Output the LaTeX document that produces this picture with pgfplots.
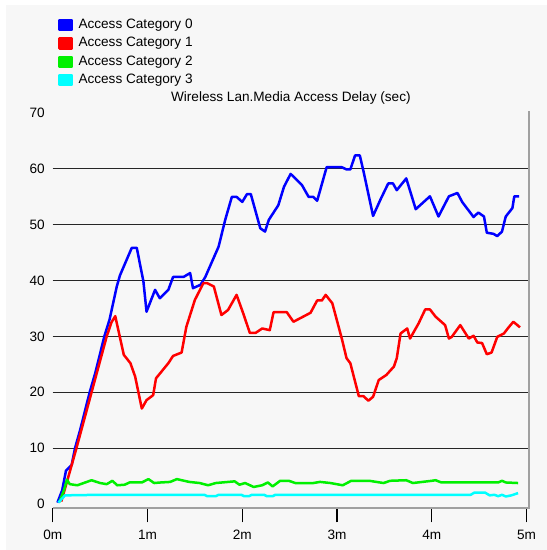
\documentclass[border=0pt]{standalone}
\usepackage{fontspec}
\setmainfont{Liberation Sans}
\usepackage{pgfplots}
\pgfplotsset{compat=1.18}
\definecolor{panel}{RGB}{247,247,247}
\definecolor{framegray}{RGB}{160,160,160}
\definecolor{cA}{RGB}{0,0,255}
\definecolor{cB}{RGB}{255,0,0}
\definecolor{cC}{RGB}{0,240,0}
\definecolor{cD}{RGB}{0,255,255}
\newcommand\f{\fontsize{13.6}{16}\selectfont}
\begin{document}
\f
\begin{tikzpicture}
\fill[white] (0pt,0pt) rectangle (547pt,-550pt);
\fill[panel] (6pt,-5pt) rectangle (547pt,-550pt);
\begin{axis}[
  at={(52.7pt,-508.3pt)}, anchor=south west,
  scale only axis, width=476.3pt, height=397.6pt,
  xmin=0, xmax=5.025, ymin=-0.714, ymax=70.29,
  axis x line*=bottom, axis y line*=left,
  axis line style={draw=none},
  /pgf/number format/assume math mode=true,
  xtick={0,1,2,3,4,5}, xticklabels={0m,1m,2m,3m,4m,5m},
  xtick align=outside, major tick length=14pt,
  xtick style={black, line width=1.3pt},
  xticklabel style={font=\f, anchor=north, inner sep=0pt, yshift=-7.7pt},
  ytick={0,10,...,70}, ytick align=inside,
  ytick style={draw=none},
  yticklabel style={font=\f, anchor=east, inner sep=0pt, xshift=-7.7pt},
  extra y ticks={10,20,30,40,50,60}, extra y tick labels={},
  extra y tick style={grid=major, major grid style={black!85, line width=1.2pt}, tick style={draw=none}},
  title={Wireless Lan.Media Access Delay (sec)},
  title style={font=\f, at={(0.5,1)}, anchor=base, inner sep=0pt, yshift=3.4pt},
  legend cell align=left,
  legend style={font=\f, draw=none, fill=none, inner sep=0pt, outer sep=0pt,
    at={(0.01176,1.2315)}, anchor=north west,
    nodes={inner sep=0pt, text height=10pt, text depth=3pt},
    column sep=5.3pt, row sep=5.3pt},
  legend image code/.code={\fill[#1] (0pt,-5pt) rectangle (12.4pt,5pt);},
  every axis plot/.append style={line width=2.5pt, line join=round, no markers},
  after end axis/.code={\draw[framegray, line width=2pt] (rel axis cs:0,0) -- (rel axis cs:1,0) -- (rel axis cs:1,1);},
]
\addplot[cA] coordinates {
(0.05,0.3) (0.1,2.5) (0.14,6) (0.2,7) (0.235,10) (0.29,13.3) (0.39,20) (0.45,23.5)
(0.545,30) (0.6,33) (0.676,38.9) (0.71,40.9) (0.834,45.8) (0.887,45.8) (0.957,39.8)
(0.99,34.4) (1.08,38.3) (1.13,36.8) (1.22,38.3) (1.27,40.6) (1.38,40.6) (1.45,41.3)
(1.48,38.6) (1.56,39.2) (1.61,40.6) (1.75,46) (1.82,50.8) (1.89,54.9) (1.94,54.9)
(2.0,54) (2.05,55.4) (2.09,55.4) (2.19,49.3) (2.24,48.7) (2.28,50.8) (2.38,53.4)
(2.44,56.7) (2.51,59) (2.56,58.2) (2.63,57) (2.70,54.9) (2.75,54.9) (2.79,54.2)
(2.89,60.2) (3.05,60.2) (3.10,59.8) (3.14,59.8) (3.19,62.3) (3.24,62.3) (3.28,59.4)
(3.38,51.5) (3.46,54.5) (3.54,57.3) (3.59,57.3) (3.63,56.1) (3.73,58.2) (3.83,52.7)
(3.98,55) (4.07,51.4) (4.18,55) (4.27,55.6) (4.32,54) (4.44,51.3) (4.49,52.1)
(4.55,51.4) (4.58,48.5) (4.65,48.3) (4.69,47.9) (4.74,48.7) (4.78,51.4) (4.85,52.9)
(4.87,55) (4.92,55)
};
\addlegendentry{Access Category 0}
\addplot[cB] coordinates {
(0.09,0.5) (0.15,4) (0.25,10) (0.41,20) (0.57,30) (0.62,32.5) (0.66,33.6) (0.75,26.7)
(0.82,25.2) (0.87,22.8) (0.94,17.1) (0.99,18.6) (1.06,19.5) (1.09,22.5) (1.22,25.2)
(1.27,26.5) (1.36,27.1) (1.41,31.7) (1.5,36.5) (1.59,39.5) (1.63,39.5) (1.70,38.9)
(1.78,33.8) (1.85,34.7) (1.94,37.4) (2.01,34.1) (2.08,30.6) (2.14,30.6) (2.21,31.4)
(2.29,31.1) (2.33,34.3) (2.47,34.3) (2.54,32.6) (2.72,34.2) (2.79,36.4) (2.84,36.4)
(2.88,37.4) (2.95,35.9) (3.05,29.6) (3.10,26.1) (3.14,25.2) (3.23,19.3) (3.28,19.3)
(3.33,18.5) (3.38,19.2) (3.44,22.2) (3.52,23.1) (3.60,24.6) (3.63,26.1) (3.67,30.5)
(3.74,31.4) (3.77,29.6) (3.86,32.3) (3.93,34.8) (3.98,34.8) (4.04,33.5) (4.14,32)
(4.18,29.6) (4.21,29.9) (4.30,32) (4.39,29.6) (4.44,30.1) (4.48,28.9) (4.53,28.8)
(4.58,26.8) (4.63,27.1) (4.69,29.9) (4.76,30.5) (4.81,31.6) (4.86,32.6) (4.93,31.6)
};
\addlegendentry{Access Category 1}
\addplot[cC] coordinates {
(0.07,0.4) (0.12,2.6) (0.15,4.4) (0.18,3.6) (0.26,3.4) (0.41,4.3) (0.5,3.8) (0.57,3.6)
(0.63,4.2) (0.68,3.4) (0.76,3.5) (0.81,3.9) (0.94,3.9) (1.01,4.5) (1.07,3.8) (1.14,3.9)
(1.24,4.0) (1.31,4.5) (1.44,4.0) (1.55,3.8) (1.64,3.4) (1.72,3.8) (1.92,4.1) (1.97,3.5)
(2.03,3.8) (2.12,3.1) (2.21,3.4) (2.27,3.9) (2.32,3.2) (2.40,4.2) (2.49,4.2) (2.56,3.8)
(2.75,3.8) (2.82,4.0) (2.93,3.8) (3.06,3.4) (3.15,4.2) (3.34,4.2) (3.49,3.8) (3.56,4.2)
(3.73,4.3) (3.80,3.8) (4.0,4.2) (4.04,4.3) (4.10,3.9) (4.23,3.9) (4.70,3.9) (4.74,4.2)
(4.78,3.9) (4.91,3.8)
};
\addlegendentry{Access Category 2}
\addplot[cD] coordinates {
(0.06,0.3) (0.13,1.6) (0.5,1.7) (1.0,1.7) (1.60,1.7) (1.63,1.45) (1.72,1.45) (1.75,1.7)
(1.99,1.7) (2.02,1.45) (2.07,1.45) (2.10,1.7) (2.23,1.7) (2.26,1.45) (2.32,1.45) (2.35,1.7)
(3.0,1.7) (4.0,1.7) (4.41,1.7) (4.45,2.1) (4.56,2.1) (4.61,1.6) (4.66,1.7) (4.70,1.45)
(4.74,1.7) (4.78,1.4) (4.84,1.6) (4.91,2.0)
};
\addlegendentry{Access Category 3}
\end{axis}
\end{tikzpicture}
\end{document}
